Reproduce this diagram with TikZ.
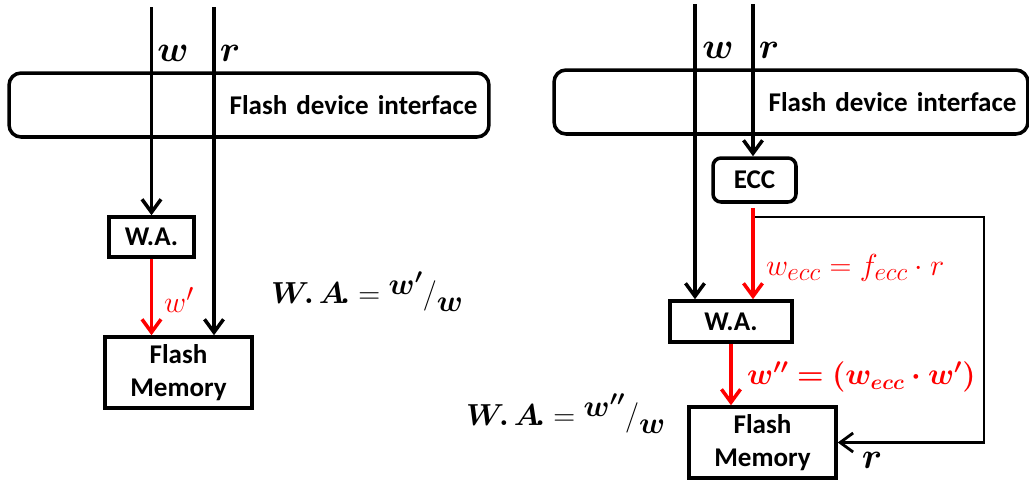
\documentclass[tikz,border=0pt]{standalone}
\usepackage{fontspec}
\setmainfont{Carlito}
\usepackage{amsmath,bm}
\usetikzlibrary{arrows.meta}

\begin{document}
\begin{tikzpicture}[
  x=0.02cm, y=-0.02cm,
  font=\fontsize{15.4}{18.7}\selectfont\bfseries,
  >={Straight Barb[length=2.6mm,width=3.8mm]},
  wire/.style={->, line width=2pt},
  redwire/.style={->, draw=red, line width=2pt},
  iface/.style={draw, line width=2pt, rounded corners=2.4mm, inner xsep=0.23cm,
    minimum height=1.28cm, align=right},
  blk/.style={draw, line width=2pt, inner sep=0pt, align=center},
  sig/.style={font=\fontsize{20}{24}\selectfont},
  eqn/.style={font=\fontsize{17}{20}\selectfont},
  redsig/.style={font=\fontsize{19}{23}\selectfont, text=red}
]
\path[use as bounding box] (0,0) rectangle (1029,481);

% without ECC
\node[iface, text width=9.14cm] (ifL) at (249,105) {Flash device interface};
\node[blk, minimum width=1.7cm, minimum height=0.8cm] (waL) at (151.5,237) {W.A.};
\node[blk, minimum width=2.94cm, minimum height=1.42cm] (memL) at (178.5,372.5) {Flash\\Memory};

\coordinate (wL) at (151.5,7);
\coordinate (rL) at (214,7);
\draw[wire] (wL) -- (waL.north);
\draw[wire] (rL) -- (rL |- memL.north);
\draw[redwire] (waL.south) -- (waL.south |- memL.north);

\node[sig] (wLlab) at (173,53) {$\bm{w}$};
\node[sig] (rLlab) at (230,53) {$\bm{r}$};
\node[redsig, anchor=west] (wpL) at (158,300) {$w'$};
\node[eqn, anchor=west] (waEqL) at (265,292)
  {$\bm{W\!.\,A\!.}=\raisebox{.6ex}{$\bm{w'}$}/\raisebox{-.6ex}{$\bm{w}$}$};

% with ECC
\node[iface, text width=9.02cm] (ifR) at (791,102) {Flash device interface};
\node[blk, rounded corners=1.6mm, minimum width=1.66cm, minimum height=0.88cm] (ecc) at (754.5,180) {ECC};
\node[blk, minimum width=2.44cm, minimum height=0.82cm] (waR) at (731,321.5) {W.A.};
\node[blk, minimum width=2.94cm, minimum height=1.42cm] (memR) at (762.5,442.5) {Flash\\Memory};

\coordinate (wR) at (695,4);
\coordinate (rR) at (753,4);
\coordinate (tap) at (753,217);
\coordinate (loopR) at (984,217);
\draw[wire] (wR) -- (wR |- waR.north);
\draw[wire] (rR) -- (rR |- ecc.north);
\draw[wire, line width=1.6pt] (tap) -- (loopR) |- (memR.east);
\draw[redwire, shorten <=0.08cm] (rR |- ecc.south) -- (rR |- waR.north);
\draw[redwire] (waR.south) -- (waR.south |- memR.north);

\node[sig] (wRlab) at (718,50) {$\bm{w}$};
\node[sig] (rRlab) at (769,50) {$\bm{r}$};
\node[redsig, anchor=west] (weccR) at (760,268) {$w_{ecc}=f_{ecc}\cdot r$};
\node[redsig, font=\fontsize{18}{22}\selectfont, anchor=west] (wppR) at (741,377) {$\bm{w''=(w_{ecc}\cdot w')}$};
\node[sig] (rFb) at (872,460) {$\bm{r}$};
\node[eqn, anchor=west] (waEqR) at (460,414)
  {$\bm{W\!.\,A\!.}=\raisebox{.6ex}{$\bm{w''}$}/\raisebox{-.6ex}{$\bm{w}$}$};
\end{tikzpicture}
\end{document}
